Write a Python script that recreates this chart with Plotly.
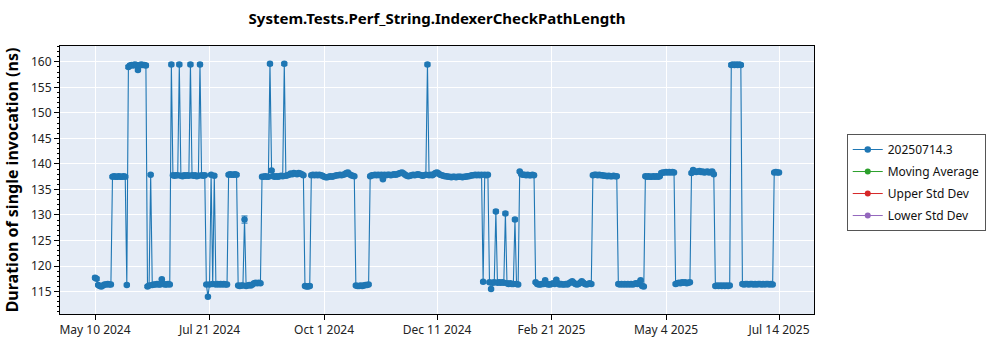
import pandas as pd
import plotly.graph_objects as go

# Daily benchmark runs, 2024-05-10 .. 2025-07-14
run_dates = pd.date_range("2024-05-10", "2025-07-14", freq="D")

# Mean duration per run (ns), ten runs per row
duration_ns = [
    117.7, 117.5, 116.3, 116.1, 116.0, 116.2, 116.4, 116.4, 116.5, 116.4,  # 2024-05-10
    116.4, 137.5, 137.6, 137.5, 137.5, 137.6, 137.5, 137.5, 137.6, 137.5,
    116.3, 159.0, 159.3, 159.4, 159.3, 159.5, 159.4, 158.4, 159.3, 159.5,
    159.4, 159.4, 159.3, 116.0, 116.2, 137.9, 116.3, 116.4, 116.4, 116.5,
    116.4, 116.4, 117.4, 116.5, 116.4, 116.4, 116.5, 116.4, 159.5, 137.8,
    137.7, 137.8, 137.8, 159.5, 137.7, 137.6, 137.8, 137.7, 137.8, 137.7,  # 2024-06-29
    159.5, 137.8, 137.7, 137.8, 137.6, 137.7, 159.5, 137.8, 137.7, 137.8,
    116.4, 114.0, 116.4, 137.9, 116.5, 137.7, 116.4, 116.5, 116.4, 116.5,
    116.4, 116.5, 116.4, 116.4, 137.9, 138.0, 137.9, 137.9, 138.0, 137.9,
    116.2, 116.1, 116.2, 116.2, 129.1, 116.1, 116.2, 116.3, 116.2, 116.4,
    116.6, 116.7, 116.6, 116.7, 116.6, 137.5, 137.5, 137.6, 137.5, 137.5,  # 2024-08-18
    159.6, 138.7, 137.6, 137.5, 137.6, 137.5, 137.6, 137.7, 137.6, 159.6,
    137.7, 137.8, 137.9, 138.1, 138.0, 138.2, 138.1, 138.0, 138.2, 138.1,
    138.0, 137.8, 116.1, 116.0, 116.0, 116.1, 137.8, 137.9, 137.8, 137.9,
    137.8, 137.9, 137.8, 137.7, 137.5, 137.4, 137.4, 137.5, 137.6, 137.5,
    137.6, 137.7, 137.8, 137.8, 137.9, 137.8, 137.9, 138.0, 138.2, 138.3,  # 2024-10-07
    138.0, 137.8, 137.7, 137.6, 116.2, 116.1, 116.1, 116.2, 116.1, 116.2,
    116.3, 116.3, 116.4, 137.6, 137.8, 137.8, 137.9, 137.8, 137.9, 137.8,
    137.9, 137.0, 137.9, 137.8, 137.9, 137.9, 137.8, 137.9, 138.0, 137.9,
    138.0, 138.1, 138.2, 138.3, 138.1, 137.9, 137.7, 137.6, 137.7, 137.8,
    137.9, 137.8, 137.9, 138.0, 137.9, 137.8, 137.7, 137.8, 137.9, 159.5,  # 2024-11-26
    137.8, 137.9, 137.8, 138.0, 138.2, 138.3, 138.1, 137.9, 137.8, 137.7,
    137.6, 137.6, 137.5, 137.5, 137.4, 137.5, 137.5, 137.4, 137.5, 137.5,
    137.5, 137.4, 137.5, 137.5, 137.6, 137.6, 137.7, 137.8, 137.8, 137.9,
    137.8, 137.9, 137.8, 137.9, 116.9, 137.9, 137.8, 137.9, 116.8, 115.5,
    116.7, 116.8, 130.7, 116.7, 116.8, 116.7, 116.8, 116.7, 130.3, 116.6,  # 2025-01-15
    116.5, 116.6, 116.5, 116.5, 129.1, 116.5, 116.4, 138.5, 138.0, 137.9,
    137.9, 137.8, 137.9, 137.8, 137.8, 137.9, 137.8, 116.8, 116.5, 116.4,
    116.4, 116.5, 116.5, 117.2, 116.5, 116.4, 116.4, 116.5, 116.6, 116.5,
    117.3, 116.6, 116.4, 116.5, 116.4, 116.4, 116.5, 116.4, 116.6, 116.8,
    117.0, 116.7, 116.5, 116.4, 116.5, 116.7, 117.0, 116.7, 116.5, 116.4,  # 2025-03-06
    116.5, 116.6, 116.5, 137.8, 137.9, 137.9, 137.8, 137.9, 137.8, 137.8,
    137.7, 137.7, 137.6, 137.7, 137.6, 137.6, 137.7, 137.6, 137.6, 116.5,
    116.4, 116.5, 116.4, 116.5, 116.4, 116.5, 116.4, 116.5, 116.4, 116.5,
    116.6, 116.5, 116.7, 117.2, 116.1, 116.0, 137.6, 137.5, 137.6, 137.5,
    137.5, 137.6, 137.5, 137.6, 137.5, 137.6, 138.2, 138.3, 138.3, 138.4,  # 2025-04-25
    138.3, 138.4, 138.3, 138.4, 138.3, 116.5, 116.6, 116.7, 116.6, 116.8,
    116.7, 116.8, 116.6, 116.7, 116.8, 138.2, 138.8, 138.5, 138.4, 138.5,
    138.6, 138.4, 138.5, 138.3, 138.4, 138.5, 138.3, 138.4, 138.5, 138.0,
    116.1, 116.2, 116.1, 116.2, 116.1, 116.2, 116.1, 116.2, 116.1, 116.2,
    159.4, 159.5, 159.4, 159.5, 159.4, 159.5, 159.4, 116.5, 116.4, 116.5,  # 2025-06-14
    116.5, 116.4, 116.5, 116.5, 116.4, 116.5, 116.4, 116.5, 116.5, 116.4,
    116.5, 116.4, 116.5, 116.5, 116.4, 116.5, 116.4, 138.3, 138.4, 138.3,
    138.3,
]

# Standard error per run (ns)
error_ns = [
    0.3, 0.3, 0.2, 0.2, 0.2, 0.2, 0.2, 0.2, 0.2, 0.2,
    0.2, 0.2, 0.2, 0.2, 0.2, 0.2, 0.2, 0.2, 0.2, 0.2,
    0.2, 0.3, 0.3, 0.3, 0.3, 0.3, 0.3, 0.3, 0.3, 0.3,
    0.3, 0.3, 0.3, 0.2, 0.2, 0.2, 0.2, 0.2, 0.2, 0.2,
    0.2, 0.2, 0.2, 0.2, 0.2, 0.2, 0.2, 0.2, 0.3, 0.2,
    0.2, 0.2, 0.2, 0.3, 0.2, 0.2, 0.2, 0.2, 0.2, 0.2,
    0.3, 0.2, 0.2, 0.2, 0.2, 0.2, 0.3, 0.2, 0.2, 0.2,
    0.2, 0.2, 0.2, 0.2, 0.2, 0.2, 0.2, 0.2, 0.2, 0.2,
    0.2, 0.2, 0.2, 0.2, 0.2, 0.2, 0.2, 0.2, 0.2, 0.2,
    0.2, 0.2, 0.2, 0.2, 0.7, 0.2, 0.2, 0.2, 0.2, 0.2,
    0.2, 0.2, 0.2, 0.2, 0.2, 0.2, 0.2, 0.2, 0.2, 0.2,
    0.3, 0.2, 0.2, 0.2, 0.2, 0.2, 0.2, 0.2, 0.2, 0.3,
    0.2, 0.2, 0.2, 0.2, 0.2, 0.2, 0.2, 0.2, 0.2, 0.2,
    0.2, 0.2, 0.2, 0.2, 0.2, 0.2, 0.2, 0.2, 0.2, 0.2,
    0.2, 0.2, 0.2, 0.2, 0.2, 0.2, 0.2, 0.2, 0.2, 0.2,
    0.2, 0.2, 0.2, 0.2, 0.2, 0.2, 0.2, 0.2, 0.2, 0.2,
    0.2, 0.2, 0.2, 0.2, 0.2, 0.2, 0.2, 0.2, 0.2, 0.2,
    0.2, 0.2, 0.2, 0.2, 0.2, 0.2, 0.2, 0.2, 0.2, 0.2,
    0.2, 0.2, 0.2, 0.2, 0.2, 0.2, 0.2, 0.2, 0.2, 0.2,
    0.2, 0.2, 0.2, 0.2, 0.2, 0.2, 0.2, 0.2, 0.2, 0.2,
    0.2, 0.2, 0.2, 0.2, 0.2, 0.2, 0.2, 0.2, 0.2, 0.3,
    0.2, 0.2, 0.2, 0.2, 0.2, 0.2, 0.2, 0.2, 0.2, 0.2,
    0.2, 0.2, 0.2, 0.2, 0.2, 0.2, 0.2, 0.2, 0.2, 0.2,
    0.2, 0.2, 0.2, 0.2, 0.2, 0.2, 0.2, 0.2, 0.2, 0.2,
    0.2, 0.2, 0.2, 0.2, 0.2, 0.2, 0.2, 0.2, 0.2, 0.2,
    0.2, 0.2, 0.3, 0.2, 0.2, 0.2, 0.2, 0.2, 0.3, 0.2,
    0.2, 0.2, 0.2, 0.2, 0.3, 0.2, 0.2, 0.2, 0.2, 0.2,
    0.2, 0.2, 0.2, 0.2, 0.2, 0.2, 0.2, 0.2, 0.2, 0.2,
    0.2, 0.2, 0.2, 0.2, 0.2, 0.2, 0.2, 0.2, 0.2, 0.2,
    0.2, 0.2, 0.2, 0.2, 0.2, 0.2, 0.2, 0.2, 0.2, 0.2,
    0.2, 0.2, 0.2, 0.2, 0.2, 0.2, 0.2, 0.2, 0.2, 0.2,
    0.2, 0.2, 0.2, 0.2, 0.2, 0.2, 0.2, 0.2, 0.2, 0.2,
    0.2, 0.2, 0.2, 0.2, 0.2, 0.2, 0.2, 0.2, 0.2, 0.2,
    0.2, 0.2, 0.2, 0.2, 0.2, 0.2, 0.2, 0.2, 0.2, 0.2,
    0.2, 0.2, 0.2, 0.2, 0.2, 0.2, 0.2, 0.2, 0.2, 0.2,
    0.2, 0.2, 0.2, 0.2, 0.2, 0.2, 0.2, 0.2, 0.2, 0.2,
    0.2, 0.2, 0.2, 0.2, 0.2, 0.2, 0.2, 0.2, 0.2, 0.2,
    0.2, 0.2, 0.2, 0.2, 0.2, 0.2, 0.2, 0.2, 0.2, 0.2,
    0.2, 0.2, 0.2, 0.2, 0.2, 0.2, 0.2, 0.2, 0.2, 0.2,
    0.2, 0.2, 0.2, 0.2, 0.2, 0.2, 0.2, 0.2, 0.2, 0.2,
    0.3, 0.3, 0.3, 0.3, 0.3, 0.3, 0.3, 0.2, 0.2, 0.2,
    0.2, 0.2, 0.2, 0.2, 0.2, 0.2, 0.2, 0.2, 0.2, 0.2,
    0.2, 0.2, 0.2, 0.2, 0.2, 0.2, 0.2, 0.2, 0.2, 0.2,
    0.2,
]

x_tick_dates = ["2024-05-10", "2024-07-21", "2024-10-01", "2024-12-11",
                "2025-02-21", "2025-05-04", "2025-07-14"]
x_tick_labels = ["May 10 2024", "Jul 21 2024", "Oct 1 2024", "Dec 11 2024",
                 "Feb 21 2025", "May 4 2025", "Jul 14 2025"]
y_tick_values = [115, 120, 125, 130, 135, 140, 145, 150, 155, 160]

series_name = "20250714.3"
overlay_names = ["Moving Average", "Upper Std Dev", "Lower Std Dev"]
overlay_colors = ["#2ca02c", "#d62728", "#9467bd"]

FONT = "Segoe UI, Noto Sans, sans-serif"
BLUE = "#1f77b4"

fig = go.Figure()
fig.add_trace(go.Scatter(
    x=run_dates, y=duration_ns, name=series_name, mode="lines+markers",
    line=dict(color=BLUE, width=1.1), marker=dict(color=BLUE, size=6.5),
    error_y=dict(type="data", array=error_ns, color=BLUE, thickness=1, width=3),
    legendgroup="g0",
))
for i, (nm, col) in enumerate(zip(overlay_names, overlay_colors)):
    fig.add_trace(go.Scatter(
        x=[None], y=[None], name=nm, mode="lines+markers",
        line=dict(color=col, width=1), marker=dict(color=col, size=6),
        legendgroup=f"g{i + 1}",
    ))

W, H = 1000, 350
ML, MR, MT, MB = 54, 186, 46, 30
PW, PH = W - ML - MR, H - MT - MB

def px_x(p):
    return (p - ML) / PW

def px_y(p):
    return 1 - (p - MT) / PH

leg_left, leg_top = 847, 136
leg_right, leg_bottom = 979, 228

fig.update_layout(
    width=W, height=H,
    margin=dict(l=ML, r=MR, t=MT, b=MB, pad=0),
    paper_bgcolor="white", plot_bgcolor="#E5ECF6",
    font=dict(family=FONT, size=12, color="#222"),
    title=dict(text="<b>System.Tests.Perf_String.IndexerCheckPathLength</b>",
               x=px_x(434), xref="paper", xanchor="center",
               y=1 - 19 / H, yanchor="middle",
               font=dict(family=FONT, size=15, color="black")),
    showlegend=True,
    legend=dict(x=px_x(leg_left), y=px_y(leg_top), xanchor="left", yanchor="top",
                bgcolor="white", bordercolor="#555", borderwidth=1,
                traceorder="grouped", tracegroupgap=3,
                font=dict(family=FONT, size=12, color="#111")),
    shapes=[dict(type="rect", xref="paper", yref="paper", layer="above",
                 x0=px_x(leg_left + 3), x1=px_x(leg_right + 3),
                 y0=px_y(leg_bottom + 3), y1=px_y(leg_top + 3),
                 fillcolor="#999", line=dict(width=0))],
)
fig.update_xaxes(
    type="date", range=["2024-04-18", "2025-08-05"],
    tickvals=x_tick_dates, ticktext=x_tick_labels,
    showgrid=True, gridcolor="white", gridwidth=1,
    showline=True, linecolor="black", linewidth=1, mirror=True,
    ticks="outside", ticklen=5, tickcolor="black",
    tickfont=dict(family=FONT, size=12, color="#222"), zeroline=False,
)
fig.update_yaxes(
    range=[110.6, 163.1], tickvals=y_tick_values,
    showgrid=True, gridcolor="white", gridwidth=1,
    showline=True, linecolor="black", linewidth=1, mirror=True,
    ticks="outside", ticklen=5, tickcolor="black",
    minor=dict(dtick=1, ticks="outside", ticklen=2, tickcolor="black", showgrid=False),
    tickfont=dict(family=FONT, size=12, color="#222"), zeroline=False,
    title=dict(text="<b>Duration of single invocation (ns)</b>", standoff=8,
               font=dict(family=FONT, size=16, color="black")),
)

fig.write_html("out.html")
